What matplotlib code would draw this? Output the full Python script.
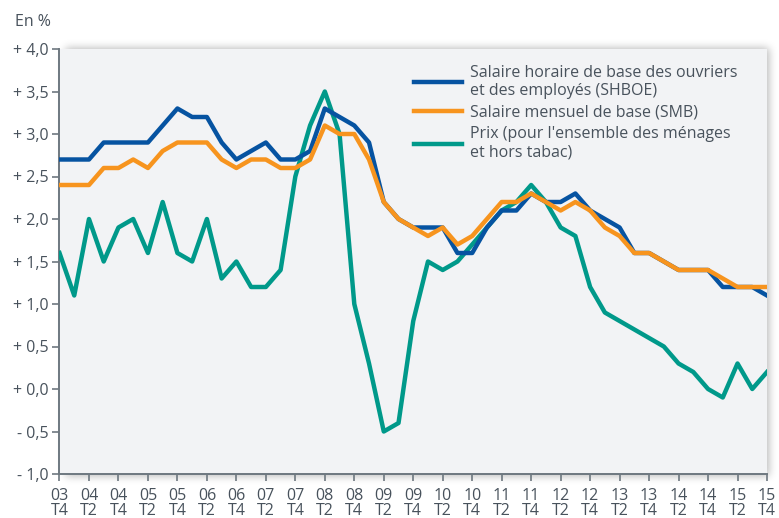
import math
import numpy as np
import matplotlib
matplotlib.use("Agg")
import matplotlib.pyplot as plt

plt.rcParams['font.family'] = ['Open Sans', 'DejaVu Sans']

# quarters 2003 T4 -> 2015 T4
quarters = np.arange(49)

shboe = [2.7, 2.7, 2.7, 2.9, 2.9, 2.9, 2.9, 3.1, 3.3, 3.2, 3.2, 2.9, 2.7,
         2.8, 2.9, 2.7, 2.7, 2.8, 3.3, 3.2, 3.1, 2.9, 2.2, 2.0, 1.9, 1.9,
         1.9, 1.6, 1.6, 1.9, 2.1, 2.1, 2.3, 2.2, 2.2, 2.3, 2.1, 2.0, 1.9,
         1.6, 1.6, 1.5, 1.4, 1.4, 1.4, 1.2, 1.2, 1.2, 1.1]
smb = [2.4, 2.4, 2.4, 2.6, 2.6, 2.7, 2.6, 2.8, 2.9, 2.9, 2.9, 2.7, 2.6,
       2.7, 2.7, 2.6, 2.6, 2.7, 3.1, 3.0, 3.0, 2.7, 2.2, 2.0, 1.9, 1.8,
       1.9, 1.7, 1.8, 2.0, 2.2, 2.2, 2.3, 2.2, 2.1, 2.2, 2.1, 1.9, 1.8,
       1.6, 1.6, 1.5, 1.4, 1.4, 1.4, 1.3, 1.2, 1.2, 1.2]
prix = [1.6, 1.1, 2.0, 1.5, 1.9, 2.0, 1.6, 2.2, 1.6, 1.5, 2.0, 1.3, 1.5,
        1.2, 1.2, 1.4, 2.5, 3.1, 3.5, 3.0, 1.0, 0.3, -0.5, -0.4, 0.8, 1.5,
        1.4, 1.5, 1.7, 1.9, 2.1, 2.2, 2.4, 2.2, 1.9, 1.8, 1.2, 0.9, 0.8,
        0.7, 0.6, 0.5, 0.3, 0.2, 0.0, -0.1, 0.3, 0.0, 0.2]

labels = ["Salaire horaire de base des ouvriers\net des employés (SHBOE)",
          "Salaire mensuel de base (SMB)",
          "Prix (pour l'ensemble des ménages\net hors tabac)"]
colors = ["#0653a1", "#f7941e", "#00998a"]

x_ticks = np.arange(0, 49, 2)
x_labels = []
for k in x_ticks:
    year = 3 + (k + 3) // 4
    q = "T4" if k % 4 == 0 else "T2"
    x_labels.append(f"{year:02d}\n{q}")

y_ticks = [4.0, 3.5, 3.0, 2.5, 2.0, 1.5, 1.0, 0.5, 0.0, -0.5, -1.0]
y_labels = ["+ 4,0", "+ 3,5", "+ 3,0", "+ 2,5", "+ 2,0", "+ 1,5", "+ 1,0",
            "+ 0,5", "+ 0,0", "- 0,5", "- 1,0"]

text_col = "#48525c"
axis_col = "#6e7880"

W, H = 779, 518
fig = plt.figure(figsize=(W / 100, H / 100), dpi=100)
x0, x1, y0, y1 = 59.5, 767, 49, 474
ax = fig.add_axes([x0 / W, 1 - y1 / H, (x1 - x0) / W, (y1 - y0) / H])
ax.set_facecolor("#f2f3f5")

# blurred drop shadow around the plot area
erf = np.vectorize(math.erf)
s = 6.0
px = np.arange(W) + 0.5
py = np.arange(H) + 0.5
fx = 0.5 * (erf((px - (x0 + 6)) / s) - erf((px - (x1 + 2)) / s))
fy = 0.5 * (erf((py - (y0 - 1)) / s) - erf((py - (y1 + 2)) / s))
shadow = np.zeros((H, W, 4))
shadow[..., 3] = 0.28 * np.outer(fy, fx)
fig.figimage(shadow[::-1], xo=0, yo=0, origin="lower", zorder=-1)

ax.plot(quarters, prix, color=colors[2], lw=3.2, label=labels[2], zorder=3)
ax.plot(quarters, smb, color=colors[1], lw=3.2, label=labels[1], zorder=4)
ax.plot(quarters, shboe, color=colors[0], lw=3.2, label=labels[0], zorder=3)

ax.set_xlim(0, 48)
ax.set_ylim(-1.0, 4.0)
ax.set_xticks(x_ticks)
ax.set_xticklabels(x_labels, linespacing=0.9)
ax.set_yticks(y_ticks)
ax.set_yticklabels(y_labels)
ax.tick_params(colors=axis_col, labelcolor=text_col, labelsize=11.5,
               length=5, width=1.2, direction="out")
ax.tick_params(axis="x", pad=5)
ax.tick_params(axis="y", pad=3)
for sp in ["top", "right"]:
    ax.spines[sp].set_visible(False)
for sp in ["left", "bottom"]:
    ax.spines[sp].set_color(axis_col)
    ax.spines[sp].set_linewidth(1.4)

h, l = ax.get_legend_handles_labels()
order = [2, 1, 0]
leg = ax.legend([h[i] for i in order], [l[i] for i in order],
                loc="upper left", bbox_to_anchor=(0.492, 0.978),
                frameon=False, fontsize=11.5, handlelength=3.0,
                handletextpad=0.5, labelspacing=0.35, borderaxespad=0)
for t in leg.get_texts():
    t.set_color(text_col)
    t.set_linespacing(1.2)

fig.text(15 / W, 1 - 22 / H, "En %", color=text_col, fontsize=11.5, va="center")

fig.savefig("out.png", dpi=100)
